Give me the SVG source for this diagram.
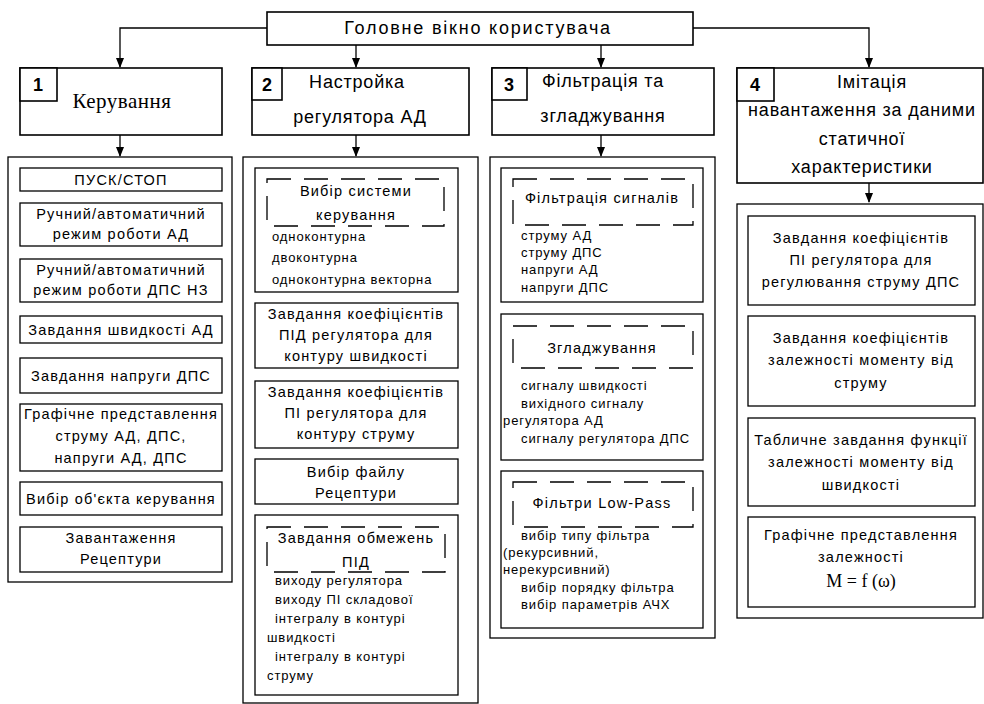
<svg xmlns="http://www.w3.org/2000/svg" width="984" height="704" viewBox="0 0 984 704">
<style>
.b{fill:#fff;stroke:#000;stroke-width:1.3}
.h{fill:#fff;stroke:#000;stroke-width:1.6}
.d{fill:none;stroke:#000;stroke-width:1.3;stroke-dasharray:24 13}
.ln{fill:none;stroke:#000;stroke-width:1.3}
text{font-family:"Liberation Sans",Arial,sans-serif;fill:#000}
.t{font-size:14.5px;letter-spacing:1.2px;text-anchor:middle}
.i{font-size:13px;letter-spacing:0.9px}
.n{font-size:18px;font-weight:bold;text-anchor:middle}
.hd{font-size:18px;letter-spacing:0.8px;text-anchor:middle}
.top{font-size:18px;letter-spacing:1.8px;text-anchor:middle}
.k{font-family:"Liberation Serif","Times New Roman",serif;font-size:21px;letter-spacing:0.5px;text-anchor:middle}
.f{font-family:"Liberation Serif","Times New Roman",serif;font-size:18px;text-anchor:middle}
</style>
<defs>
<marker id="ar" markerWidth="10" markerHeight="10" refX="9" refY="5" orient="auto" markerUnits="userSpaceOnUse">
<path d="M0,1 L10,5 L0,9 Z" fill="#000"/>
</marker>
</defs>
<g id="connectors">
<path class="ln" d="M267,28 H120 V67" marker-end="url(#ar)"/>
<path class="ln" d="M693,28 H869 V67" marker-end="url(#ar)"/>
<path class="ln" d="M356,45 V67" marker-end="url(#ar)"/>
<path class="ln" d="M601,45 V67" marker-end="url(#ar)"/>
<path class="ln" d="M120,135 V156" marker-end="url(#ar)"/>
<path class="ln" d="M356,135 V156" marker-end="url(#ar)"/>
<path class="ln" d="M601,135 V156" marker-end="url(#ar)"/>
<path class="ln" d="M869,183 V202" marker-end="url(#ar)"/>
</g>
<g id="main">
<rect class="h" x="267" y="12" width="426" height="33"/>
<text class="top" x="478" y="34">Головне вікно користувача</text>
</g>
<g id="h1">
<rect class="h" x="20" y="68" width="202" height="67"/>
<rect class="h" x="20" y="68" width="37" height="33"/>
<text class="n" x="38" y="91">1</text>
<text class="k" x="122" y="108">Керування</text>
</g>
<g id="h2">
<rect class="h" x="252" y="68" width="217" height="67"/>
<rect class="h" x="252" y="68" width="30" height="32"/>
<text class="n" x="267" y="91">2</text>
<text class="hd" x="357" y="88">Настройка</text>
<text class="hd" x="360" y="123">регулятора АД</text>
</g>
<g id="h3">
<rect class="h" x="492" y="68" width="222" height="67"/>
<rect class="h" x="492" y="68" width="35" height="32"/>
<text class="n" x="509" y="91">3</text>
<text class="hd" x="603" y="87">Фільтрація та</text>
<text class="hd" x="603" y="122">згладжування</text>
</g>
<g id="h4">
<rect class="h" x="737" y="68" width="246" height="115"/>
<rect class="h" x="737" y="68" width="37" height="33"/>
<text class="n" x="755" y="91">4</text>
<text class="hd" x="872" y="88">Імітація</text>
<text class="hd" x="862" y="116">навантаження за даними</text>
<text class="hd" x="862" y="145">статичної</text>
<text class="hd" x="862" y="173">характеристики</text>
</g>
<g id="c1">
<rect class="b" x="8" y="157" width="224" height="425"/>
<rect class="b" x="20" y="168" width="202" height="23"/>
<text class="t" x="121" y="185">ПУСК/СТОП</text>
<rect class="b" x="20" y="203" width="202" height="43"/>
<text class="t" x="121" y="219">Ручний/автоматичний</text>
<text class="t" x="121" y="239">режим роботи АД</text>
<rect class="b" x="20" y="259" width="202" height="43"/>
<text class="t" x="121" y="275">Ручний/автоматичний</text>
<text class="t" x="121" y="295">режим роботи ДПС НЗ</text>
<rect class="b" x="20" y="316" width="202" height="27"/>
<text class="t" x="121" y="335">Завдання швидкості АД</text>
<rect class="b" x="20" y="358" width="202" height="35"/>
<text class="t" x="121" y="381">Завдання напруги ДПС</text>
<rect class="b" x="20" y="404" width="202" height="67"/>
<text class="t" x="121" y="419">Графічне представлення</text>
<text class="t" x="121" y="441">струму АД, ДПС,</text>
<text class="t" x="121" y="463">напруги АД, ДПС</text>
<rect class="b" x="20" y="482" width="202" height="33"/>
<text class="t" x="121" y="504">Вибір об'єкта керування</text>
<rect class="b" x="20" y="527" width="202" height="45"/>
<text class="t" x="121" y="543">Завантаження</text>
<text class="t" x="121" y="564">Рецептури</text>
</g>
<g id="c2">
<rect class="b" x="243" y="157" width="235" height="546"/>
<rect class="b" x="255" y="168" width="203" height="124"/>
<rect class="d" x="267" y="179" width="177" height="47"/>
<text class="t" x="356" y="196">Вибір системи</text>
<text class="t" x="356" y="220">керування</text>
<text class="i" x="272" y="241">одноконтурна</text>
<text class="i" x="272" y="262">двоконтурна</text>
<text class="i" x="272" y="284">одноконтурна векторна</text>
<rect class="b" x="255" y="303" width="203" height="65"/>
<text class="t" x="356" y="319">Завдання коефіцієнтів</text>
<text class="t" x="356" y="340">ПІД регулятора для</text>
<text class="t" x="356" y="361">контуру швидкості</text>
<rect class="b" x="255" y="381" width="203" height="67"/>
<text class="t" x="356" y="397">Завдання коефіцієнтів</text>
<text class="t" x="356" y="418">ПІ регулятора для</text>
<text class="t" x="356" y="439">контуру струму</text>
<rect class="b" x="255" y="459" width="203" height="45"/>
<text class="t" x="356" y="477">Вибір файлу</text>
<text class="t" x="356" y="498">Рецептури</text>
<rect class="b" x="255" y="515" width="203" height="180"/>
<rect class="d" x="267" y="527" width="178" height="45"/>
<text class="t" x="356" y="543">Завдання обмежень</text>
<text class="t" x="356" y="567">ПІД</text>
<text class="i" x="275" y="585">виходу регулятора</text>
<text class="i" x="275" y="604">виходу ПІ складової</text>
<text class="i" x="275" y="623">інтегралу в контурі</text>
<text class="i" x="267" y="642">швидкості</text>
<text class="i" x="275" y="661">інтегралу в контурі</text>
<text class="i" x="267" y="680">струму</text>
</g>
<g id="c3">
<rect class="b" x="490" y="157" width="225" height="481"/>
<rect class="b" x="501" y="168" width="202" height="134"/>
<rect class="d" x="513" y="179" width="180" height="46"/>
<text class="t" x="602" y="203">Фільтрація сигналів</text>
<text class="i" x="521" y="240">струму АД</text>
<text class="i" x="521" y="257">струму ДПС</text>
<text class="i" x="521" y="274">напруги АД</text>
<text class="i" x="521" y="292">напруги ДПС</text>
<rect class="b" x="501" y="314" width="202" height="146"/>
<rect class="d" x="513" y="326" width="180" height="42"/>
<text class="t" x="602" y="353">Згладжування</text>
<text class="i" x="521" y="390">сигналу швидкості</text>
<text class="i" x="521" y="408">вихідного сигналу</text>
<text class="i" x="503" y="425">регулятора АД</text>
<text class="i" x="521" y="443">сигналу регулятора ДПС</text>
<rect class="b" x="501" y="471" width="202" height="157"/>
<rect class="d" x="513" y="482" width="180" height="45"/>
<text class="t" x="602" y="508">Фільтри Low-Pass</text>
<text class="i" x="521" y="540">вибір типу фільтра</text>
<text class="i" x="503" y="557">(рекурсивний,</text>
<text class="i" x="503" y="574">нерекурсивний)</text>
<text class="i" x="521" y="592">вибір порядку фільтра</text>
<text class="i" x="521" y="609">вибір параметрів АЧХ</text>
</g>
<g id="c4">
<rect class="b" x="737" y="204" width="246" height="414"/>
<rect class="b" x="748" y="216" width="227" height="89"/>
<text class="t" x="861" y="243">Завдання коефіцієнтів</text>
<text class="t" x="861" y="265">ПІ регулятора для</text>
<text class="t" x="861" y="287">регулювання струму ДПС</text>
<rect class="b" x="748" y="316" width="227" height="90"/>
<text class="t" x="861" y="343">Завдання коефіцієнтів</text>
<text class="t" x="861" y="365">залежності моменту від</text>
<text class="t" x="861" y="388">струму</text>
<rect class="b" x="748" y="418" width="227" height="88"/>
<text class="t" x="861" y="445">Табличне завдання функції</text>
<text class="t" x="861" y="467">залежності моменту від</text>
<text class="t" x="861" y="490">швидкості</text>
<rect class="b" x="748" y="517" width="227" height="90"/>
<text class="t" x="861" y="540">Графічне представлення</text>
<text class="t" x="861" y="562">залежності</text>
<text class="f" x="861" y="587">M = f (ω)</text>
</g>
</svg>
